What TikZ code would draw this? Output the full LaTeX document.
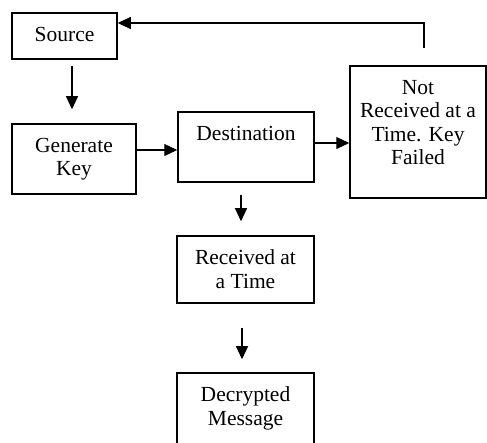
\documentclass[tikz,border=0pt]{standalone}
\usepackage{fontspec}
\setmainfont{Liberation Serif}
\usetikzlibrary{arrows.meta}
\begin{document}
\begin{tikzpicture}[x=1pt,y=-1pt,
  box/.style={draw, line width=1.5pt, rectangle, inner sep=0pt},
  txt/.style={anchor=north, inner sep=0pt, align=center, yshift=-14.5pt,
    font=\fontsize{21.5}{23.5}\selectfont},
  arr/.style={line width=1.1pt, -{Triangle[length=13pt,width=12pt]}}]
\clip (0,0) rectangle (487,443);
\fill[white] (0,0) rectangle (487,443);
\node[box, minimum width=105pt, minimum height=46pt] (src) at (64.5,36) {};
\node[box, minimum width=124pt, minimum height=70pt] (gen) at (74,159) {};
\node[box, minimum width=136pt, minimum height=70pt] (dst) at (246,147) {};
\node[box, minimum width=136pt, minimum height=132pt] (nt) at (418,132) {};
\node[box, minimum width=137pt, minimum height=67pt] (rcv) at (245.5,269.5) {};
\node[box, minimum width=137pt, minimum height=77pt] (dec) at (245.5,411.5) {};
\node[txt] (srcT) at (src.north) {Source};
\node[txt] (genT) at (gen.north) {Generate\\Key};
\node[txt] (dstT) at (dst.north) {Destination};
\node[txt] (ntT) at (nt.north) {Not\\Received at a\\Time. Key\\Failed};
\node[txt] (rcvT) at (rcv.north) {Received at\\a Time};
\node[txt] (decT) at (dec.north) {Decrypted\\Message};
\draw[arr] ([xshift=7.5pt,yshift=-6pt]src.south) -- ([xshift=-2pt,yshift=14pt]gen.north);
\draw[arr] ([yshift=9pt]gen.east) -- ([yshift=-3pt]dst.west);
\draw[arr] ([yshift=4pt]dst.east) -- ([yshift=-11pt]nt.west);
\draw[arr] ([xshift=6pt,yshift=17pt]nt.north) |- ([yshift=13pt]src.east);
\draw[arr] ([xshift=-5pt,yshift=-12pt]dst.south) -- ([xshift=-4.5pt,yshift=14pt]rcv.north);
\draw[arr] ([xshift=-3.5pt,yshift=-24pt]rcv.south) -- ([xshift=-3.5pt,yshift=13pt]dec.north);
\end{tikzpicture}
\end{document}
